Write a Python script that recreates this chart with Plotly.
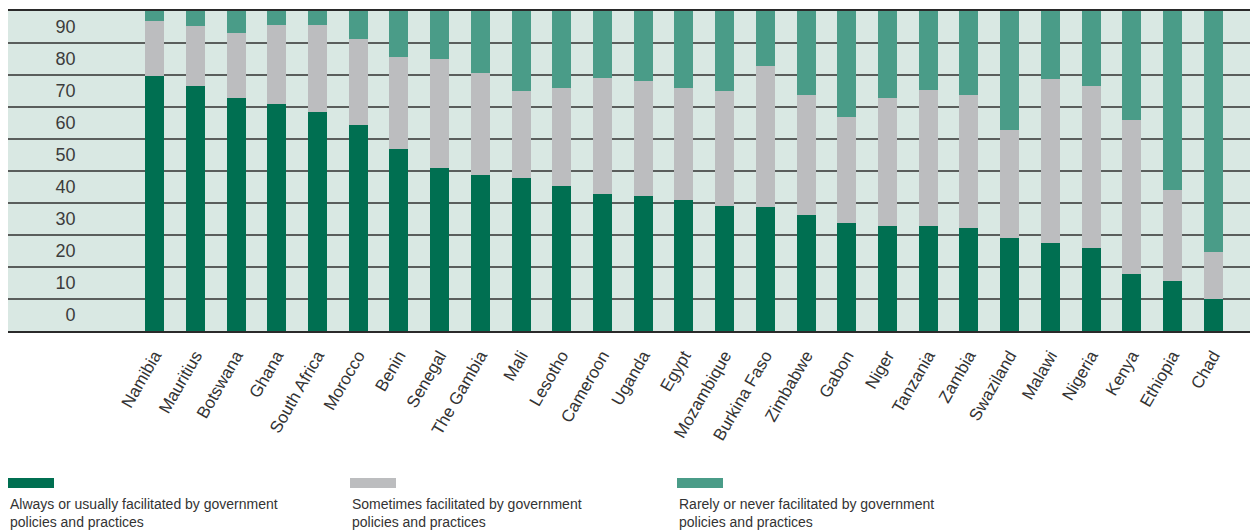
import plotly.graph_objects as go

countries = ["Namibia", "Mauritius", "Botswana", "Ghana", "South Africa", "Morocco", "Benin",
             "Senegal", "The Gambia", "Mali", "Lesotho", "Cameroon", "Uganda", "Egypt",
             "Mozambique", "Burkina Faso", "Zimbabwe", "Gabon", "Niger", "Tanzania", "Zambia",
             "Swaziland", "Malawi", "Nigeria", "Kenya", "Ethiopia", "Chad"]

always = [79.7, 76.6, 72.8, 70.9, 68.4, 64.4, 56.9, 50.9, 48.8, 47.8, 45.3, 42.8, 42.2, 40.9,
          39.1, 38.8, 36.3, 33.8, 32.8, 32.8, 32.2, 29.1, 27.5, 25.9, 17.8, 15.6, 10.0]
sometimes = [17.2, 18.7, 20.3, 24.7, 27.2, 26.9, 28.7, 34.1, 31.8, 27.2, 30.6, 36.3, 35.9, 35.0,
             35.9, 44.0, 37.4, 33.1, 40.0, 42.5, 41.6, 33.7, 51.3, 50.7, 48.1, 28.5, 14.7]
rarely = [round(100 - a - s, 1) for a, s in zip(always, sometimes)]

series_names = ["Always or usually facilitated by government<br>policies and practices",
                "Sometimes facilitated by government<br>policies and practices",
                "Rarely or never facilitated by government<br>policies and practices"]
series_colors = ["#006f51", "#bcbdbf", "#4a9c88"]

y_tick_labels = ["0", "10", "20", "30", "40", "50", "60", "70", "80", "90"]
y_label_pos = [5, 15, 25, 35, 45, 55, 65, 75, 85, 95]
grid_vals = [0, 10, 20, 30, 40, 50, 60, 70, 80, 90, 100]

fig = go.Figure()
for name, vals, col in zip(series_names, [always, sometimes, rarely], series_colors):
    fig.add_trace(go.Bar(x=countries, y=vals, name=name, marker=dict(color=col, line=dict(width=0)),
                         showlegend=False))

FONT = "Liberation Sans"
PLOT_H = 320
PLOT_W = 1250
fig.update_layout(
    barmode="stack",
    bargap=0.533,
    width=1250, height=523,
    margin=dict(l=0, r=0, t=3, b=200),
    paper_bgcolor="white",
    plot_bgcolor="#d9e8e3",
    font=dict(family=FONT, color="#333333"),
    xaxis=dict(
        type="category",
        range=[-3.6, 27.1],
        tickangle=-60,
        tickfont=dict(size=17, color="#333333", family=FONT),
        ticklabelstandoff=6,
        showgrid=False,
        showline=True, mirror=True, linecolor="#2a2a2a", linewidth=2,
        ticks="",
    ),
    yaxis=dict(
        range=[0, 100],
        anchor="free",
        position=0.0541,
        tickvals=y_label_pos,
        ticktext=y_tick_labels,
        tickfont=dict(size=18, color="#3c3c3c", family=FONT),
        showgrid=False,
        zeroline=False,
        showline=False,
        ticks="",
        minor=dict(tickvals=grid_vals, showgrid=True, gridcolor="#5a5e5c", gridwidth=1.5),
    ),
)

# Legend: swatch above two-line text, three columns (x in pixels from plot left)
legend_x = [0, 342, 669]
for name, col, lx in zip(series_names, series_colors, legend_x):
    fig.add_shape(type="rect", xref="paper", yref="paper",
                  x0=lx / PLOT_W, x1=(lx + 46) / PLOT_W,
                  y0=-(488 - 331) / PLOT_H, y1=-(478 - 331) / PLOT_H,
                  fillcolor=col, line=dict(width=0))
    fig.add_annotation(text=name, xref="paper", yref="paper",
                       x=lx / PLOT_W, y=-(494 - 331) / PLOT_H,
                       xanchor="left", yanchor="top", align="left", showarrow=False,
                       font=dict(size=14, color="#333333", family=FONT))

fig.write_html("out.html", config={"displayModeBar": False})
